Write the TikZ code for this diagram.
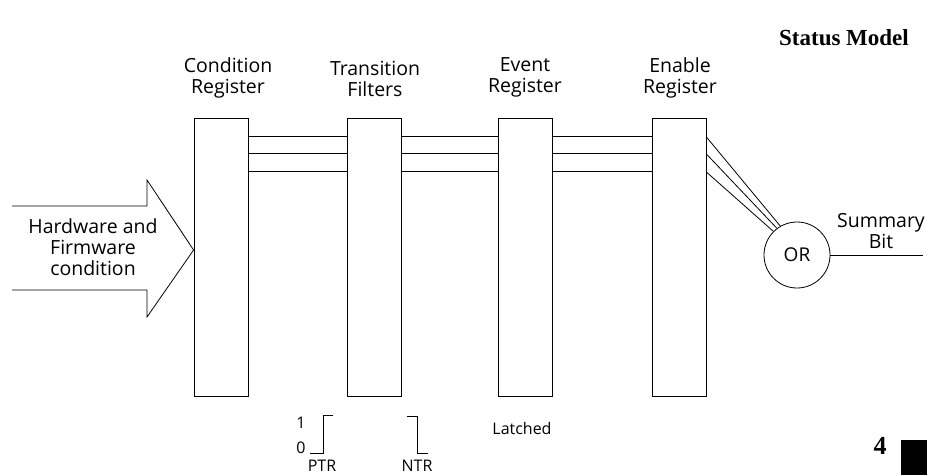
\documentclass[tikz,border=0pt]{standalone}
\usepackage{fontspec}
\setmainfont{Open Sans}
\newfontfamily\titlefont{Liberation Serif}
\begin{document}
\begin{tikzpicture}[x=1pt,y=-1pt, line width=0.8pt,
  regbox/.style={draw, minimum width=54pt, minimum height=278pt, inner sep=0pt},
  lab/.style={font=\fontsize{19.5}{21}\selectfont, align=center, inner sep=0pt},
  small/.style={font=\fontsize{16}{18}\selectfont, inner sep=0pt},
  ttl/.style={font=\titlefont\bfseries\fontsize{23}{25}\selectfont, inner sep=0pt}]
\useasboundingbox (0,0) rectangle (935,475);
% title
\node[ttl] (title) at (844,38) {Status Model};
% registers
\node[regbox] (cr) at (221,257) {};
\node[regbox] (tf) at (374,257) {};
\node[regbox] (ev) at (525,257) {};
\node[regbox] (en) at (679,257) {};
% labels
\node[lab] (crl) at (228,77.5) {Condition\\Register};
\node[lab] (tfl) at (375,78.5) {Transition\\Filters};
\node[lab] (evl) at (525,77.5) {Event\\Register};
\node[lab] (enl) at (680,77.5) {Enable\\Register};
% connecting lines
\foreach \a/\b in {cr/tf, tf/ev, ev/en}
  \foreach \yy in {136,153.5,171}
    \draw (\a.east |- 0,\yy) -- (\b.west |- 0,\yy);
% OR gate
\node[draw, circle, minimum size=66pt, inner sep=0pt, font=\fontsize{19}{20}\selectfont] (or) at (797,255) {OR};
\draw (en.east |- 0,137) -- (or.120);
\draw (en.east |- 0,154) -- (or.127);
\draw (en.east |- 0,172) -- (or.135);
\coordinate (sb) at (923,255);
\draw (or.east) -- (sb);
\node[lab] (sbl) at (881,231) {Summary\\Bit};
% input arrow
\coordinate (tip) at (cr.west |- 0,250);
\draw (12,206) -- (147,206) -- (147,180) -- (tip) -- (147,317) -- (147,290) -- (12,290);
\node[lab] (hw) at (93,247.5) {Hardware and\\Firmware\\condition};
% PTR / NTR
\draw (310,453) -- (323,453) -- (323,415) -- (333,415);
\node[small] (one) at (301,423) {1};
\node[small] (zero) at (301,448) {0};
\node[small] (ptr) at (322,466) {PTR};
\draw (407,416) -- (417,416) -- (417,453) -- (428,453);
\node[small] (ntr) at (417,466) {NTR};
\node[small] (lat) at (522,428) {Latched};
% page number
\node[ttl, font=\titlefont\bfseries\fontsize{26}{28}\selectfont] (pg) at (880,446) {4};
\fill (901,440) rectangle (927,475);
\end{tikzpicture}
\end{document}
